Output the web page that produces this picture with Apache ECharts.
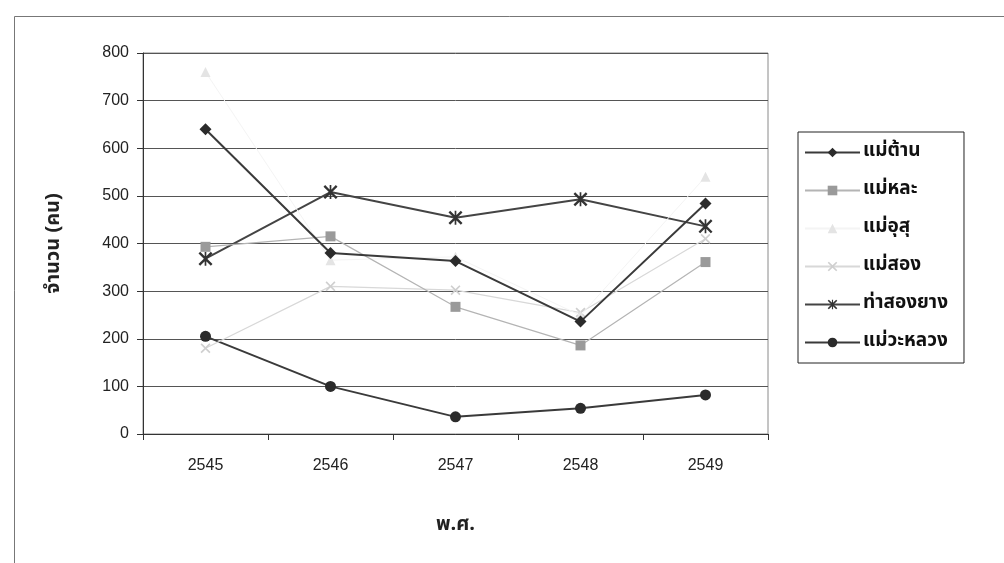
<!DOCTYPE html>
<html><head><meta charset="utf-8">
<script src="https://cdn.jsdelivr.net/npm/echarts@6/dist/echarts.min.js"></script>
<style>html,body{margin:0;padding:0;background:#fff}#c{width:1004px;height:563px}</style>
</head><body><div id="c"></div>
<script>
const years = ['2545','2546','2547','2548','2549'];
const seriesNames = ['แม่ต้าน','แม่หละ','แม่อุสุ','แม่สอง','ท่าสองยาง','แม่วะหลวง'];
const maeTan = [640, 380, 363, 236, 484];
const maeLa = [393, 415, 267, 186, 361];
const maeUsu = [760, 365, 372, 249, 540];
const maeSong = [180, 310, 302, 255, 410];
const thaSongYang = [368, 508, 454, 493, 436];
const maeWaLuang = [205, 100, 36, 54, 82];
const yTicks = [0, 100, 200, 300, 400, 500, 600, 700, 800];

const xPath = 'path://M0,1.2L1.2,0L5,3.8L8.8,0L10,1.2L6.2,5L10,8.8L8.8,10L5,6.2L1.2,10L0,8.8L3.8,5Z';
const starPath = 'path://M0,1.2L1.2,0L5,3.8L8.8,0L10,1.2L6.2,5L10,8.8L8.8,10L5,6.2L1.2,10L0,8.8L3.8,5Z M4.4,0L5.6,0L5.6,10L4.4,10Z';

const thaiFont = '"Noto Sans Thai","Loma","Garuda","Norasi","Tlwg Typo",sans-serif';
const styles = [
  {data: maeTan, symbol: 'diamond', size: 12, color: '#2b2b2b', line: '#3a3a3a', w: 2},
  {data: maeLa, symbol: 'rect', size: 10, color: '#9a9a9a', line: '#b4b4b4', w: 1.2},
  {data: maeUsu, symbol: 'triangle', size: 10, color: '#e4e4e4', line: '#f4f4f4', w: 1},
  {data: maeSong, symbol: xPath, size: 10, color: '#cfcfcf', line: '#d8d8d8', w: 1.2},
  {data: thaSongYang, symbol: starPath, size: 14, color: '#333333', line: '#444444', w: 2},
  {data: maeWaLuang, symbol: 'circle', size: 11, color: '#2b2b2b', line: '#3a3a3a', w: 2}
];

const chart = echarts.init(document.getElementById('c'), null, {renderer: 'canvas'});
chart.setOption({
  animation: false,
  backgroundColor: '#ffffff',
  graphic: [{
    type: 'rect', left: 12, top: 14, shape: {width: 1010, height: 570},
    style: {fill: 'none', stroke: '#777', lineWidth: 1}, silent: true
  }],
  grid: {left: 143, right: 236, top: 53, bottom: 129, show: true, borderColor: '#8a8a8a', borderWidth: 1, backgroundColor: '#fff'},
  legend: {
    orient: 'vertical', left: 798, top: 132,
    padding: [11, 16, 11, 6],
    itemGap: 19,
    itemWidth: 55, itemHeight: 12,
    borderColor: '#222', borderWidth: 1,
    textStyle: {fontFamily: thaiFont, fontSize: 19, fontWeight: 'bold', color: '#111', padding: [0, 0, 0, -2]},
    data: seriesNames
  },
  xAxis: {
    type: 'category', data: years, boundaryGap: true,
    axisLine: {lineStyle: {color: '#333', width: 1}},
    axisTick: {show: true, length: 6, lineStyle: {color: '#333'}},
    axisLabel: {fontFamily: '"Liberation Sans",Arial,sans-serif', fontSize: 16, color: '#222', margin: 24},
    name: 'พ.ศ.', nameLocation: 'middle', nameGap: 82,
    nameTextStyle: {fontFamily: thaiFont, fontSize: 20, fontWeight: 'bold', color: '#222'}
  },
  yAxis: {
    type: 'value', min: 0, max: 800, interval: 100,
    axisLine: {show: true, lineStyle: {color: '#333', width: 1}},
    axisTick: {show: true, length: 6, inside: false, lineStyle: {color: '#333'}},
    axisLabel: {fontFamily: '"Liberation Sans",Arial,sans-serif', fontSize: 16, color: '#222', margin: 14,
      formatter: v => yTicks.includes(v) ? String(v) : ''},
    splitLine: {show: true, lineStyle: {color: '#555', width: 1}},
    name: 'จำนวน (คน)', nameLocation: 'middle', nameGap: 78, nameRotate: 90,
    nameTextStyle: {fontFamily: thaiFont, fontSize: 20, fontWeight: 'bold', color: '#222'}
  },
  series: styles.map((s, i) => ({
    name: seriesNames[i], type: 'line', data: s.data,
    symbol: s.symbol, symbolSize: s.size, symbolKeepAspect: true,
    showAllSymbol: true,
    itemStyle: {color: s.color, borderWidth: 0},
    lineStyle: {color: s.line, width: s.w},
    emphasis: {disabled: true},
    z: 10 - i
  }))
});
</script></body></html>
